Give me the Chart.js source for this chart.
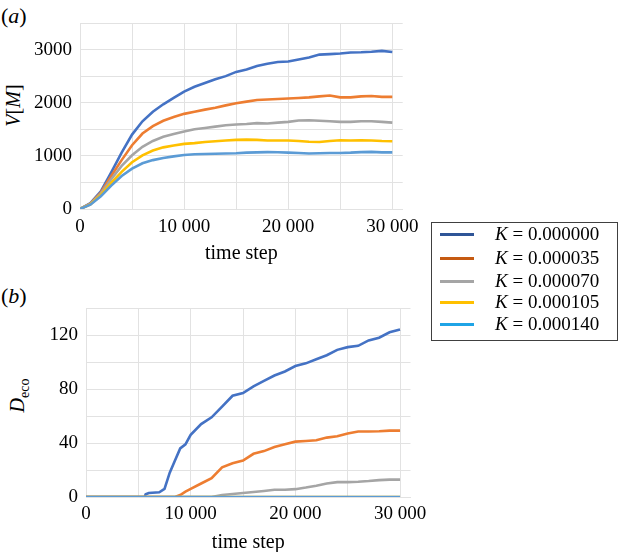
<!DOCTYPE html>
<html>
<head>
<meta charset="utf-8">
<script src="https://cdn.jsdelivr.net/npm/chart.js@4.4.0/dist/chart.umd.min.js"></script>
<style>
  body { margin: 0; background: #fff; font-family: "Liberation Serif", serif; }
  #page { position: relative; width: 620px; height: 552px; overflow: hidden; }
  .box { position: absolute; }
  .panel { position: absolute; font-size: 22px; }
  .ytitle { position: absolute; font-size: 20px; white-space: nowrap; transform: rotate(-90deg); transform-origin: center center; }
  #legend { position: absolute; left: 431px; top: 222px; width: 185px; height: 117px; border: 1.5px solid #404040; }
  .row { position: absolute; left: 0; height: 22px; font-size: 19px; }
  .row span.ln { position: absolute; left: 8px; top: 10px; width: 34px; height: 3px; }
  .row span.tx { position: absolute; left: 63px; top: 0; white-space: nowrap; line-height: 22px; }
</style>
</head>
<body>
<div id="page">
  <div class="panel" style="left:1px;top:3px;">(<i>a</i>)</div>
  <div class="panel" style="left:1px;top:283px;">(<i>b</i>)</div>
  <div class="ytitle" style="left:-12px;top:94px;width:50px;text-align:center;"><i>V</i>[<i>M</i>]</div>
  <div class="ytitle" style="left:-6px;top:382px;width:50px;text-align:center;"><i>D</i><sub style="font-size:14px;">eco</sub></div>
  <div class="box" style="left:0;top:0;width:430px;height:272px;"><canvas id="topChart"></canvas></div>
  <div class="box" style="left:0;top:280px;width:440px;height:272px;"><canvas id="botChart"></canvas></div>
  <div id="legend"></div>
</div>
<script>
// legend labels and colours
var kLabels = ["0.000000", "0.000035", "0.000070", "0.000105", "0.000140"];
var lineColors = ["#4472C4", "#ED7D31", "#A5A5A5", "#FFC000", "#5B9BD5"];
var legendColors = ["#2F5597", "#C55A11", "#A5A5A5", "#FFC000", "#1FA4E6"];

// grid / tick positions
var xTicks = [0, 5000, 10000, 15000, 20000, 25000, 30000];
var xLabelTicks = [0, 10000, 20000, 30000];
var vTicks = [0, 500, 1000, 1500, 2000, 2500, 3000, 3500];
var dTicks = [0, 20, 40, 60, 80, 100, 120, 140];

// (a) V[M] vs time step
var steps = [0, 1000, 2000, 3000, 4000, 5000, 6000, 7000, 8000, 9000, 10000,
  11000, 12000, 13000, 14000, 15000, 16000, 17000, 18000, 19000, 20000,
  21000, 22000, 23000, 24000, 25000, 26000, 27000, 28000, 29000, 30000];
var vK0 = [0, 110, 330, 690, 1060, 1400, 1650, 1830, 1970, 2090, 2210,
  2300, 2370, 2440, 2500, 2580, 2625, 2690, 2735, 2765, 2775,
  2815, 2850, 2905, 2915, 2925, 2945, 2950, 2960, 2975, 2955];
var vK35 = [0, 100, 310, 620, 920, 1200, 1420, 1560, 1660, 1730, 1790,
  1830, 1870, 1905, 1950, 1990, 2020, 2050, 2060, 2070, 2080,
  2090, 2100, 2120, 2135, 2100, 2100, 2120, 2125, 2110, 2110];
var vK70 = [0, 95, 290, 560, 810, 1010, 1170, 1280, 1360, 1410, 1460,
  1500, 1525, 1550, 1575, 1590, 1600, 1615, 1610, 1625, 1640,
  1665, 1670, 1660, 1650, 1640, 1640, 1650, 1650, 1640, 1625];
var vK105 = [0, 88, 265, 490, 700, 880, 1010, 1100, 1160, 1195, 1225,
  1240, 1260, 1275, 1290, 1300, 1305, 1300, 1290, 1290, 1288,
  1280, 1265, 1262, 1280, 1295, 1290, 1295, 1290, 1280, 1275];
var vK140 = [0, 82, 240, 440, 620, 760, 860, 920, 960, 990, 1015,
  1030, 1035, 1040, 1045, 1050, 1060, 1065, 1070, 1068, 1060,
  1055, 1045, 1050, 1055, 1055, 1060, 1070, 1075, 1065, 1065];

// (b) D_eco vs time step
var ecoSteps = [0, 5000, 5600, 5700, 6000, 7000, 7500, 8000, 8500, 9000, 9500, 10000,
  11000, 12000, 13000, 14000, 15000, 16000, 17000, 18000, 19000, 20000,
  21000, 22000, 23000, 24000, 25000, 26000, 27000, 28000, 29000, 30000];
var dK0 = [0, 0, 0, 2, 3, 3.5, 6, 18, 27, 36, 39, 46,
  54, 59, 67, 75, 77, 82, 86, 90, 93, 97,
  99, 102, 105, 109, 111, 112, 116, 118, 122, 124];
var dK35 = [0, 0, 0, 0, 0, 0, 0, 0, 0, 1.5, 4, 6,
  10, 14, 22, 25, 27, 32, 34, 37, 39, 41,
  41.5, 42, 44, 45, 47, 48.5, 48.5, 48.7, 49.2, 49.2];
var dK70 = [0, 0, 0, 0, 0, 0, 0, 0, 0, 0, 0, 0,
  0, 0, 1.5, 2.2, 3, 3.7, 4.5, 5.4, 5.4, 5.8,
  7, 8.4, 10, 11, 11, 11.3, 11.8, 12.5, 12.9, 12.9];
var dK105 = [0, 0, 0, 0, 0, 0, 0, 0, 0, 0, 0, 0,
  0, 0, 0, 0, 0, 0, 0, 0, 0, 0,
  0, 0, 0, 0, 0, 0, 0, 0, 0, 0];
var dK140 = [0, 0, 0, 0, 0, 0, 0, 0, 0, 0, 0, 0,
  0, 0, 0, 0, 0, 0, 0, 0, 0, 0,
  0, 0, 0, 0, 0, 0, 0, 0, 0, 0];

function pts(xs, ys) {
  return xs.map(function(x, i){ return {x: x, y: ys[i]}; });
}

function makeSets(xs, series) {
  return series.map(function(ys, i){
    return {
      label: "K = " + kLabels[i],
      data: pts(xs, ys),
      borderColor: lineColors[i],
      borderWidth: 2.6,
      pointRadius: 0,
      tension: 0,
      order: series.length - 1 - i
    };
  });
}

var gridColor = "#e2e2e2";
var tickFont = {family: "Liberation Serif", size: 19};

function setTicks(list) {
  return function(s){ s.ticks = list.map(function(v){ return {value: v}; }); };
}

function makeOptions(o) {
  return {
    responsive: true,
    maintainAspectRatio: false,
    animation: false,
    layout: {padding: {left: 0, top: o.top, right: o.right, bottom: 0}},
    plugins: {legend: {display: false}, tooltip: {enabled: false}},
    scales: {
      x: {
        type: "linear", min: 0, max: 31000,
        afterBuildTicks: setTicks(xTicks),
        afterFit: function(s){ s.height = o.xh; },
        ticks: {padding: o.xpad, color: "#000", font: tickFont, maxRotation: 0, autoSkip: false,
          callback: function(v){
            if (xLabelTicks.indexOf(v) < 0) return "";
            return v === 0 ? "0" : (v / 1000) + " 000";
          }},
        grid: {color: gridColor, drawTicks: false},
        border: {color: gridColor},
        title: {display: true, text: "time step", color: "#000",
          font: {family: "Liberation Serif", size: 20, lineHeight: 1}, padding: {top: 0, bottom: o.tpad}}
      },
      y: {
        type: "linear", min: 0, max: o.yTicks[o.yTicks.length - 1],
        afterBuildTicks: setTicks(o.yTicks),
        afterFit: function(s){ s.width = o.yw; },
        ticks: {padding: 8, color: "#000", font: tickFont, autoSkip: false,
          callback: function(v){ return v % o.ylab === 0 ? String(v) : ""; }},
        grid: {color: gridColor, drawTicks: false},
        border: {color: gridColor}
      }
    }
  };
}

new Chart(document.getElementById("topChart"), {
  type: "line",
  data: {datasets: makeSets(steps, [vK0, vK35, vK70, vK105, vK140])},
  options: makeOptions({top: 23, right: 27.3, xh: 63, xpad: 7, tpad: 8, yTicks: vTicks, ylab: 1000, yw: 80})
});

new Chart(document.getElementById("botChart"), {
  type: "line",
  data: {datasets: makeSets(ecoSteps, [dK0, dK35, dK70, dK105, dK140])},
  options: makeOptions({top: 28, right: 29.5, xh: 55, xpad: 6, tpad: -1, yTicks: dTicks, ylab: 40, yw: 86})
});

// legend box
var leg = document.getElementById("legend");
var rowTops = [0, 23.5, 46.5, 68, 90];
kLabels.forEach(function(k, i){
  var r = document.createElement("div");
  r.className = "row";
  r.style.top = rowTops[i] + "px";
  r.innerHTML = '<span class="ln" style="background:' + legendColors[i] + '"></span>' +
    '<span class="tx"><i>K</i> = ' + k + '</span>';
  leg.appendChild(r);
});
</script>
</body>
</html>
